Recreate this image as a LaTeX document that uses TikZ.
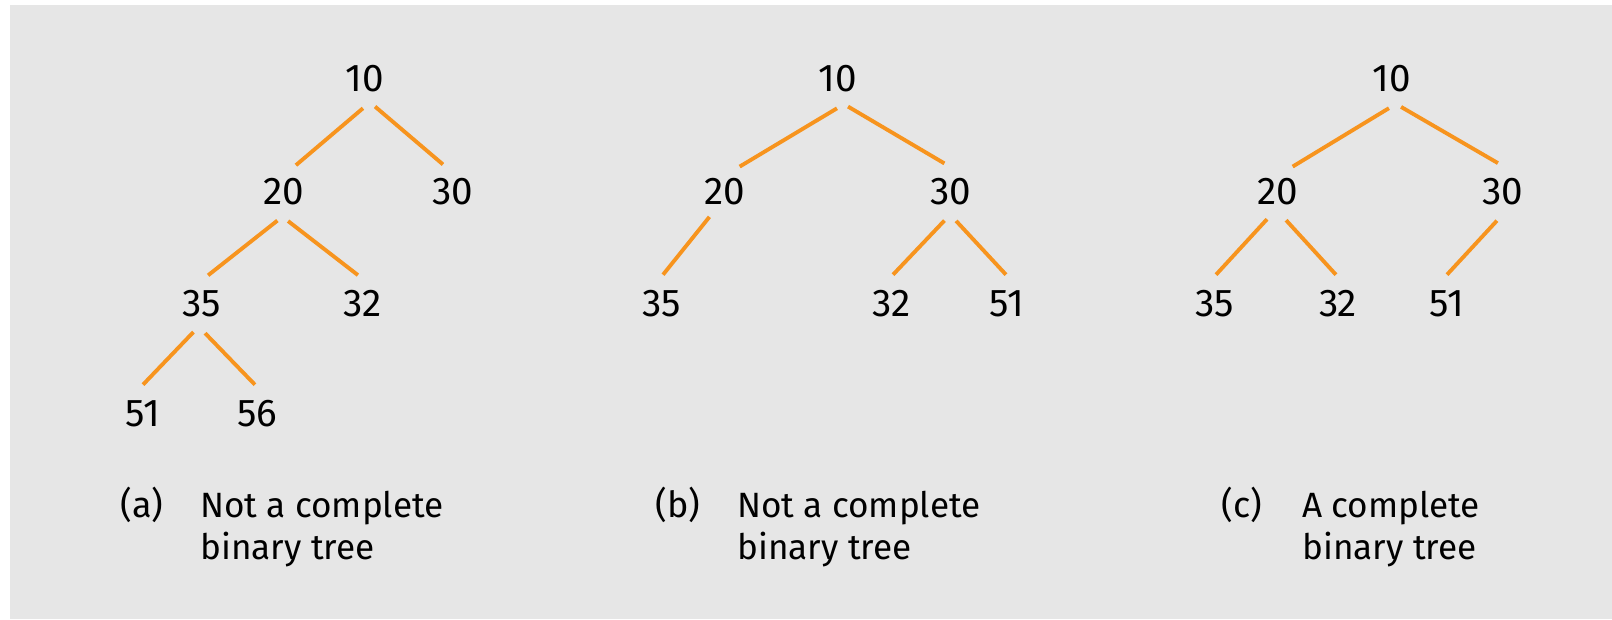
\documentclass[tikz,border=0pt]{standalone}
\usepackage{fontspec}
\setmainfont{Fira Sans}
\definecolor{treeorange}{RGB}{247,148,30}
\definecolor{panelgray}{RGB}{230,230,230}
\begin{document}
\begin{tikzpicture}[x=0.02cm,y=-0.02cm]

\tikzset{keynode/.style={circle,minimum size=1.16cm,inner sep=0pt,text=black,font=\fontsize{22}{26}\selectfont},}
\tikzset{branch/.style={treeorange,line width=2.2pt},}
\tikzset{tag/.style={anchor=base,inner sep=0pt,font=\fontsize{20.5}{24}\selectfont},}
\tikzset{caption/.style={anchor=base west,align=left,inner sep=0pt,font=\fontsize{20}{23.4}\selectfont},}

\useasboundingbox (0,0) rectangle (1612,619);
\fill[panelgray] (10,5) rectangle (1612,619);

%TREE A
\draw (365,79) node [keynode] (a10) {10};
\draw (284,192) node [keynode] (a20) {20};
\draw (453,192) node [keynode] (a30) {30};
\draw (202,304) node [keynode] (a35) {35};
\draw (363,304) node [keynode] (a32) {32};
\draw (143,414) node [keynode] (a51) {51};
\draw (257,414) node [keynode] (a56) {56};

\draw[branch] (a10.-94) -- (a20.66);
\draw[branch] (a10.-70) -- (a30.110);
\draw[branch] (a20.-103) -- (a35.78);
\draw[branch] (a20.-82) -- (a32.100);
\draw[branch] (a35.-107) -- (a51.90);
\draw[branch] (a35.-84) -- (a56.94);
\draw (142,517) node [tag] (taga) {(a)};
\draw (200,559) node [caption] (capa) {Not a complete\\binary tree};

%TREE B
\draw (838,79) node [keynode] (b10) {10};
\draw (725,192) node [keynode] (b20) {20};
\draw (951,192) node [keynode] (b30) {30};
\draw (662,304) node [keynode] (b35) {35};
\draw (892,304) node [keynode] (b32) {32};
\draw (1007,304) node [keynode] (b51) {51};

\draw[branch] (b10.-92) -- (b20.60);
\draw[branch] (b10.-70) -- (b30.103);
\draw[branch] (b20.-122) -- (b35.88);
\draw[branch] (b30.-103) -- (b32.88);
\draw[branch] (b30.-80) -- (b51.92);
\draw (678,517) node [tag] (tagb) {(b)};
\draw (737,559) node [caption] (capb) {Not a complete\\binary tree};

%TREE C
\draw (1392,79) node [keynode] (c10) {10};
\draw (1278,192) node [keynode] (c20) {20};
\draw (1503,192) node [keynode] (c30) {30};
\draw (1215,304) node [keynode] (c35) {35};
\draw (1338,304) node [keynode] (c32) {32};
\draw (1447,304) node [keynode] (c51) {51};

\draw[branch] (c10.-96) -- (c20.60);
\draw[branch] (c10.-72) -- (c30.100);
\draw[branch] (c20.-112) -- (c35.88);
\draw[branch] (c20.-74) -- (c32.94);
\draw[branch] (c30.-102) -- (c51.90);
\draw (1242,517) node [tag] (tagc) {(c)};
\draw (1302,559) node [caption] (capc) {A complete\\binary tree};

\end{tikzpicture}
\end{document}
